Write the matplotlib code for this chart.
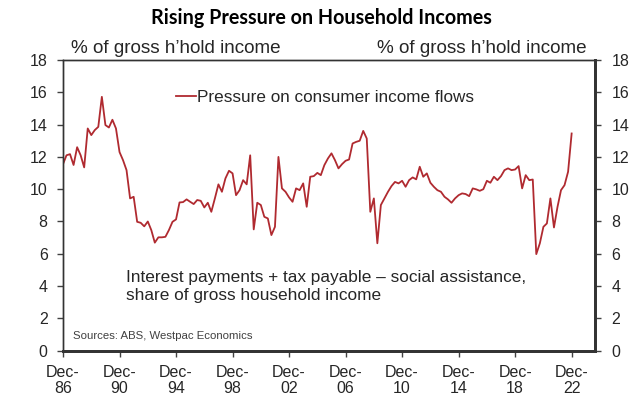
import matplotlib
matplotlib.use("Agg")
import matplotlib.pyplot as plt
import numpy as np
import pandas as pd

# quarterly, Dec-86 .. Dec-22 (% of gross household income)
pressure = [
    11.55, 12.1, 12.17, 11.5, 12.6, 12.1, 11.35, 13.76, 13.35, 13.66,
    13.86, 15.72, 13.97, 13.82, 14.3, 13.76, 12.3, 11.8, 11.18, 9.43,
    9.53, 7.98, 7.92, 7.7, 8.0, 7.47, 6.69, 7.02, 7.02, 7.05,
    7.47, 7.98, 8.13, 9.18, 9.2, 9.37, 9.22, 9.08, 9.33, 9.28,
    8.87, 9.16, 8.6, 9.43, 10.3, 9.84, 10.67, 11.14, 10.98, 9.63,
    9.94, 10.56, 10.3, 12.1, 7.51, 9.16, 9.02, 8.29, 8.19, 7.16,
    7.67, 12.0, 10.05, 9.84, 9.49, 9.22, 10.05, 9.94, 10.36, 8.91,
    10.77, 10.81, 11.01, 10.87, 11.49, 11.9, 12.22, 11.8, 11.29, 11.55,
    11.76, 11.84, 12.83, 12.93, 13.0, 13.61, 13.14, 8.6, 9.43, 6.65,
    9.02, 9.43, 9.84, 10.19, 10.45, 10.36, 10.52, 10.15, 10.56, 10.73,
    10.61, 11.39, 10.77, 10.98, 10.4, 10.15, 9.94, 9.84, 9.53, 9.37,
    9.16, 9.43, 9.63, 9.74, 9.7, 9.57, 10.05, 9.99, 9.9, 10.0,
    10.52, 10.4, 10.77, 10.56, 10.81, 11.18, 11.29, 11.18, 11.22, 11.43,
    10.05, 10.87, 10.56, 10.6, 5.98, 6.65, 7.67, 7.88, 9.43, 7.63,
    8.91, 9.94, 10.25, 11.08, 13.45,
]
dates = pd.date_range("1986-12-31", periods=len(pressure), freq="QE")
tick_years = list(range(1986, 2023, 4))
y_ticks = list(range(0, 19, 2))

TXT = "#262626"
LINE = "#b02a30"
plt.rcParams["font.family"] = ["Liberation Sans", "DejaVu Sans"]

fig = plt.figure(figsize=(6.43, 3.96), dpi=100)
ax = fig.add_axes([0.098, 0.1144, 0.827, 0.7341])
ax.plot(dates, pressure, color=LINE, lw=1.3,
        label="Pressure on consumer income flows")

ax.set_xlim(pd.Timestamp("1986-12-31"), pd.Timestamp("2024-08-20"))
ax.set_ylim(0, 18)
ticks = [pd.Timestamp(f"{y}-12-31") for y in tick_years]
ax.set_xticks(ticks)
ax.set_xticklabels([f"Dec-\n{y % 100:02d}" for y in tick_years],
                   fontsize=11.5, color=TXT, linespacing=1.1)
ax.set_yticks(y_ticks)
ax.tick_params(axis="both", direction="out", length=4, width=1, color="#404040",
               labelsize=11.5, labelcolor=TXT)
ax.tick_params(axis="x", pad=6)
ax.tick_params(axis="y", pad=7)

ax2 = ax.twinx()
ax2.set_ylim(0, 18)
ax2.set_yticks(y_ticks)
ax2.tick_params(axis="y", direction="out", length=4, width=1, color="#404040",
                labelsize=11.5, labelcolor=TXT, pad=8)

for a in (ax, ax2):
    a.spines["left"].set_linewidth(1.0)
    a.spines["top"].set_linewidth(1.0)
    a.spines["right"].set_linewidth(2.0)
    a.spines["bottom"].set_linewidth(2.0)
    for s in a.spines.values():
        s.set_color("#333333")

ax.text(0.015, 1.01, "% of gross h\u2019hold income", transform=ax.transAxes,
        fontsize=13.6, color=TXT, ha="left", va="bottom")
ax.text(0.985, 1.01, "% of gross h\u2019hold income", transform=ax.transAxes,
        fontsize=13.6, color=TXT, ha="right", va="bottom")

ax.legend(loc="upper left", bbox_to_anchor=(0.183, 0.95), frameon=False,
          fontsize=12.3, handlelength=1.2, handletextpad=0.05, labelcolor=TXT)

ax.text(0.118, 0.22,
        "Interest payments + tax payable \u2013 social assistance,\n"
        "share of gross household income",
        transform=ax.transAxes, fontsize=12.4, color=TXT, ha="left", va="center",
        linespacing=1.25)
ax.text(0.018, 0.05, "Sources: ABS, Westpac Economics", transform=ax.transAxes,
        fontsize=8.2, color="#404040", ha="left", va="center")

fig.text(0.5, 0.955, "Rising Pressure on Household Incomes", ha="center",
         va="center", fontsize=14.2, fontweight="bold", color="black",
         family=["Lato", "DejaVu Sans"])

fig.savefig("out.png", dpi=100)
